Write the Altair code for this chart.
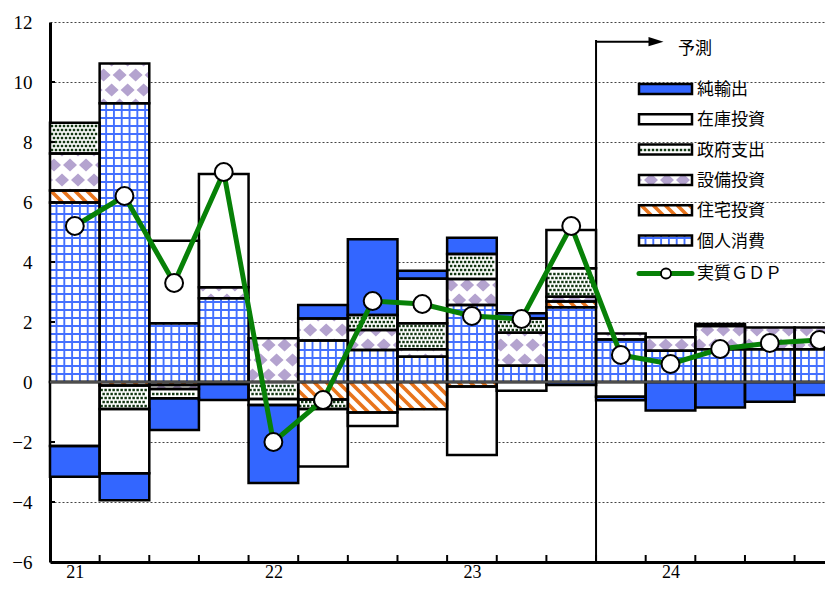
import altair as alt
import numpy as np
import pandas as pd

# ---------------- data ----------------
quarters = ["21Q1", "21Q2", "21Q3", "21Q4", "22Q1", "22Q2", "22Q3", "22Q4",
            "23Q1", "23Q2", "23Q3", "23Q4", "24Q1", "24Q2", "24Q3", "24Q4"]
year_labels = ["21", "22", "23", "24"]
series_names = ["個人消費", "住宅投資", "設備投資", "政府支出", "在庫投資", "純輸出"]
consumption = [5.98, 9.29, 1.96, 2.79, 0.00, 1.38, 1.07, 0.84, 2.57, 0.54, 2.49, 1.42, 1.04, 1.09, 1.09, 1.09]
residential = [0.40, -0.12, -0.10, 0.00, 0.00, -0.58, -1.02, -0.91, -0.15, 0.00, 0.19, 0.00, 0.00, 0.00, 0.00, 0.00]
equipment = [1.24, 1.33, -0.13, 0.37, 1.46, 0.74, 0.66, 0.25, 0.86, 1.10, 0.16, 0.20, 0.45, 0.78, 0.73, 0.73]
government = [1.02, -0.78, -0.31, -0.07, -0.57, -0.32, 0.50, 0.87, 0.84, 0.48, 0.95, 0.00, 0.00, 0.06, 0.00, 0.00]
inventory = [-2.13, -2.14, 2.75, 3.77, -0.20, -1.92, -0.45, 1.48, -2.28, -0.29, 1.28, -0.49, 0.00, 0.00, 0.00, 0.00]
net_exports = [-1.03, -0.90, -1.06, -0.53, -2.60, 0.45, 2.53, 0.27, 0.54, 0.17, -0.10, -0.12, -0.95, -0.85, -0.66, -0.43]
real_gdp = [5.2, 6.2, 3.3, 7.0, -2.0, -0.6, 2.7, 2.6, 2.2, 2.1, 5.2, 0.9, 0.6, 1.1, 1.3, 1.4]
gdp_label = "実質ＧＤＰ"
forecast_label = "予測"
forecast_start = "23Q4"
y_ticks = list(range(-6, 13, 2))

# ---------------- layout / style ----------------
PX_PER_BAR = 49.64
W, H = 775, 540
XMAX = W / PX_PER_BAR
YMIN, YMAX = -6, 12
SX = W / XMAX            # px per x unit
SY = H / (YMAX - YMIN)   # px per y unit
PLOT_LEFT, PLOT_TOP = 50, 22
FONT_NUM = "Liberation Serif"
FONT_JP = "Noto Sans CJK JP"
BLUE = "#3366ff"
GRID_BLUE = "#4470ff"
ORANGE = "#e8741c"
LAVENDER = "#b4a3cf"
DOT = "#123612"
GREEN = "#078107"

fills = {"個人消費": "white", "住宅投資": "white", "設備投資": "white",
         "政府支出": "white", "在庫投資": "white", "純輸出": BLUE}


def dx(px):   # page pixel -> data x
    return (px - PLOT_LEFT) / SX


def dy(py):   # page pixel -> data y
    return YMAX - (py - PLOT_TOP) / SY


# ---------------- stacked segments ----------------
series_values = [consumption, residential, equipment, government, inventory, net_exports]
segs = []
for i in range(len(quarters)):
    pos, neg = 0.0, 0.0
    for name, vals in zip(series_names, series_values):
        v = vals[i]
        if v > 0:
            lo, hi = pos, pos + v
            pos = hi
        elif v < 0:
            lo, hi = neg + v, neg
            neg = lo
        else:
            continue
        segs.append(dict(series=name, x0=i, x1=min(i + 1, XMAX + 0.05), y0=lo, y1=hi))

# legend swatches (same drawing pipeline)
legend_order = list(reversed(series_names))
legend_rects, legend_texts = [], []
for k, name in enumerate(legend_order):
    cy = 89 + 30.3 * k
    legend_rects.append(dict(series=name, x0=dx(639), x1=dx(692), y0=dy(cy + 5), y1=dy(cy - 5)))
    legend_texts.append(dict(text=name, x=dx(697), y=dy(cy + 1)))
gdp_leg_y = 273.5
legend_texts.append(dict(text=gdp_label, x=dx(697), y=dy(gdp_leg_y + 0.5)))

all_rects = pd.DataFrame(segs + legend_rects)


def rects_of(name):
    return all_rects[all_rects.series == name].to_dict("records")


# ---------------- pattern builders ----------------
def grid_rules(rects, step=7.8, first=6.5, hstep=8.0):
    out = []
    for r in rects:
        X0, X1 = r["x0"] * SX, r["x1"] * SX
        Y0, Y1 = r["y0"] * SY, r["y1"] * SY
        u = X0 + first
        while u < X1 - 2:
            out.append(dict(x=u / SX, x2=u / SX, y=r["y0"], y2=r["y1"]))
            u += step
        m = np.ceil((Y0 + 1.5) / hstep)
        while m * hstep < Y1 - 1.5:
            out.append(dict(x=r["x0"], x2=r["x1"], y=m * hstep / SY, y2=m * hstep / SY))
            m += 1
    return pd.DataFrame(out)


def stripe_rules(rects, sp=12.0):
    out = []
    for r in rects:
        X0, X1 = r["x0"] * SX, r["x1"] * SX
        Y0, Y1 = r["y0"] * SY, r["y1"] * SY
        c = np.floor((X0 + Y0) / sp) * sp
        while c <= X1 + Y1:
            xs, xe = max(X0, c - Y1), min(X1, c - Y0)
            if xe - xs > 0.3:
                out.append(dict(x=xs / SX, y=(c - xs) / SY, x2=xe / SX, y2=(c - xe) / SY))
            c += sp
    return pd.DataFrame(out)


def dot_points(rects, sx=4.0, sy=4.0, m=2.0):
    out = []
    for r in rects:
        X0, X1 = r["x0"] * SX, r["x1"] * SX
        Y0, Y1 = r["y0"] * SY, r["y1"] * SY
        rr = int(np.ceil((Y0 + m) / sy))
        while rr * sy <= Y1 - m:
            x = X0 + m + (sx / 2) * (rr % 2)
            while x <= X1 - m:
                out.append(dict(x=x / SX, y=rr * sy / SY))
                x += sx
            rr += 1
    return pd.DataFrame(out)


def diamond_areas(rects, a=7.0, b=6.5, sx=16.0, sy=15.0):
    out = []
    did = 0
    for r in rects:
        X0, X1 = r["x0"] * SX + 1.2, r["x1"] * SX - 1.2
        Y0, Y1 = r["y0"] * SY, r["y1"] * SY
        r0 = int(np.floor((Y0 - b) / sy)) - 1
        r1 = int(np.ceil((Y1 + b) / sy)) + 1
        for rr in range(r0, r1 + 1):
            cy = rr * sy + 7
            if cy - b >= Y1 or cy + b <= Y0:
                continue
            base = r["x0"] * SX + 4 + (sx / 2) * (rr % 2)
            k = -1
            while True:
                cx = base + k * sx
                k += 1
                if cx - a >= X1:
                    break
                if cx + a <= X0:
                    continue
                xl, xr = max(cx - a, X0), min(cx + a, X1)
                xs = {xl, xr}
                if xl < cx < xr:
                    xs.add(cx)
                for t in (Y0, Y1):
                    d = abs(t - cy)
                    if d < b:
                        w = a * (1 - d / b)
                        for xx in (cx - w, cx + w):
                            if xl < xx < xr:
                                xs.add(xx)
                pts = []
                for xx in sorted(xs):
                    h = max(0.0, b * (1 - abs(xx - cx) / a))
                    up, lo = min(cy + h, Y1), max(cy - h, Y0)
                    if up < lo:
                        up = lo = (Y1 if cy - h > Y1 else Y0)
                    pts.append((xx, lo, up))
                if max(p[2] - p[1] for p in pts) <= 0.01:
                    continue
                for xx, lo, up in pts:
                    out.append(dict(id=did, x=xx / SX, y=lo / SY, y2=up / SY))
                did += 1
    return pd.DataFrame(out)


grid_df = grid_rules(rects_of("個人消費"))
stripe_df = stripe_rules(rects_of("住宅投資"))
dot_df = dot_points(rects_of("政府支出"))
dia_df = diamond_areas(rects_of("設備投資"))

# ---------------- scales / axes ----------------
x_scale = alt.Scale(domain=[0, XMAX], nice=False, zero=False)
y_scale = alt.Scale(domain=[YMIN, YMAX], nice=False, zero=False)
year_js = "[" + ",".join("'%s'" % s for s in year_labels) + "]"
x_axis = alt.Axis(values=[4 * k + 0.5 for k in range(len(year_labels))],
                  labelExpr=year_js + "[floor(datum.value / 4)]",
                  ticks=False, grid=False, domainColor="black", domainWidth=3,
                  labelFont=FONT_NUM, labelFontSize=18, labelColor="black",
                  labelPadding=1, title=None)
y_axis = alt.Axis(values=y_ticks, ticks=False, grid=True, gridDash=[2, 2],
                  gridColor="#444", gridWidth=1, domainColor="black", domainWidth=3,
                  labelFont=FONT_NUM, labelFontSize=19, labelColor="black",
                  labelPadding=18, title=None, format="d")


def X(f):
    return alt.X(f, type="quantitative", scale=x_scale, axis=x_axis)


def Y(f):
    return alt.Y(f, type="quantitative", scale=y_scale, axis=y_axis, stack=None)


def X2(f):
    return alt.X2(f)


def Y2(f):
    return alt.Y2(f)


# ---------------- layers ----------------
bg = alt.Chart(all_rects).mark_rect(strokeWidth=0).encode(
    x=X("x0"), x2=X2("x1"), y=Y("y0"), y2=Y2("y1"),
    fill=alt.Fill("series:N", scale=alt.Scale(domain=series_names,
                                              range=[fills[s] for s in series_names]),
                  legend=None))

grid_layer = alt.Chart(grid_df).mark_rule(color=GRID_BLUE, strokeWidth=1.9).encode(
    x=X("x"), x2=X2("x2"), y=Y("y"), y2=Y2("y2"))

stripe_layer = alt.Chart(stripe_df).mark_rule(color=ORANGE, strokeWidth=3.6).encode(
    x=X("x"), x2=X2("x2"), y=Y("y"), y2=Y2("y2"))

dot_layer = alt.Chart(dot_df).mark_square(size=6, color=DOT, opacity=1).encode(
    x=X("x"), y=Y("y"))

dia_layer = alt.Chart(dia_df).mark_area(color=LAVENDER, interpolate="linear", opacity=1).encode(
    x=X("x"), y=Y("y"), y2=Y2("y2"), detail="id:N")

outline = alt.Chart(all_rects).mark_rect(fill="transparent", stroke="black", strokeWidth=2.5).encode(
    x=X("x0"), x2=X2("x1"), y=Y("y0"), y2=Y2("y1"))

zero_line = alt.Chart(pd.DataFrame({"y": [0.0], "x": [0.0], "x2": [XMAX]})).mark_rule(
    color="#4d4d4d", strokeWidth=2.5).encode(x=X("x"), x2=X2("x2"), y=Y("y"))

xt = pd.DataFrame({"x": [k for k in range(1, len(quarters)) if k < XMAX], "y": YMIN, "y2": YMIN + 7 / SY})
x_ticks = alt.Chart(xt).mark_rule(color="black", strokeWidth=2).encode(
    x=X("x"), y=Y("y"), y2=Y2("y2"))
yt = pd.DataFrame({"y": [v for v in y_ticks if YMIN < v < YMAX and v != 0], "x": 0.0, "x2": 5 / SX})
y_ticks_layer = alt.Chart(yt).mark_rule(color="black", strokeWidth=2).encode(
    x=X("x"), x2=X2("x2"), y=Y("y"))

fx = quarters.index(forecast_start)
fc_v = alt.Chart(pd.DataFrame({"x": [fx], "y": [dy(40)], "y2": [YMIN]})).mark_rule(
    color="black", strokeWidth=2).encode(x=X("x"), y=Y("y"), y2=Y2("y2"))
fc_h = alt.Chart(pd.DataFrame({"x": [fx], "x2": [dx(652)], "y": [dy(41.7)]})).mark_rule(
    color="black", strokeWidth=2).encode(x=X("x"), x2=X2("x2"), y=Y("y"))
fc_arrow = alt.Chart(pd.DataFrame({"x": [dx(656)], "y": [dy(41.7)]})).mark_point(
    shape="M-1,-0.62L1,0L-1,0.62Z", size=225, filled=True, color="black", opacity=1).encode(
    x=X("x"), y=Y("y"))
fc_text = alt.Chart(pd.DataFrame({"t": [forecast_label], "x": [dx(678)], "y": [dy(48.5)]})).mark_text(
    font=FONT_JP, fontSize=17, align="left", baseline="middle", color="black").encode(
    x=X("x"), y=Y("y"), text="t:N")

gdp_df = pd.DataFrame({"x": [i + 0.5 for i in range(len(quarters))], "y": real_gdp})
gdp_line = alt.Chart(gdp_df).mark_line(color=GREEN, strokeWidth=5).encode(x=X("x"), y=Y("y"))
gdp_pts = alt.Chart(gdp_df).mark_point(shape="circle", size=320, filled=True, fill="white",
                                       stroke="black", strokeWidth=2, opacity=1).encode(
    x=X("x"), y=Y("y"))

leg_line = alt.Chart(pd.DataFrame({"x": [dx(639)], "x2": [dx(692)], "y": [dy(gdp_leg_y)]})).mark_rule(
    color=GREEN, strokeWidth=5, strokeCap="round").encode(x=X("x"), x2=X2("x2"), y=Y("y"))
leg_pt = alt.Chart(pd.DataFrame({"x": [dx(666)], "y": [dy(gdp_leg_y)]})).mark_point(
    shape="circle", size=100, filled=True, fill="white", stroke="black", strokeWidth=1.8,
    opacity=1).encode(x=X("x"), y=Y("y"))
leg_text = alt.Chart(pd.DataFrame(legend_texts)).mark_text(
    font=FONT_JP, fontSize=17, align="left", baseline="middle", color="black").encode(
    x=X("x"), y=Y("y"), text="text:N")

chart = alt.layer(
    bg, grid_layer, stripe_layer, dia_layer, dot_layer, outline, zero_line,
    x_ticks, y_ticks_layer, fc_v, fc_h, fc_arrow, fc_text,
    gdp_line, gdp_pts, leg_line, leg_pt, leg_text
).properties(
    width=W, height=H,
    padding={"left": 42, "top": 14, "right": 0, "bottom": 23},
    autosize=alt.AutoSizeParams(type="none"),
    background="white",
).configure_view(stroke=None)

chart.save("out.html", embed_options={"renderer": "svg", "actions": False})
